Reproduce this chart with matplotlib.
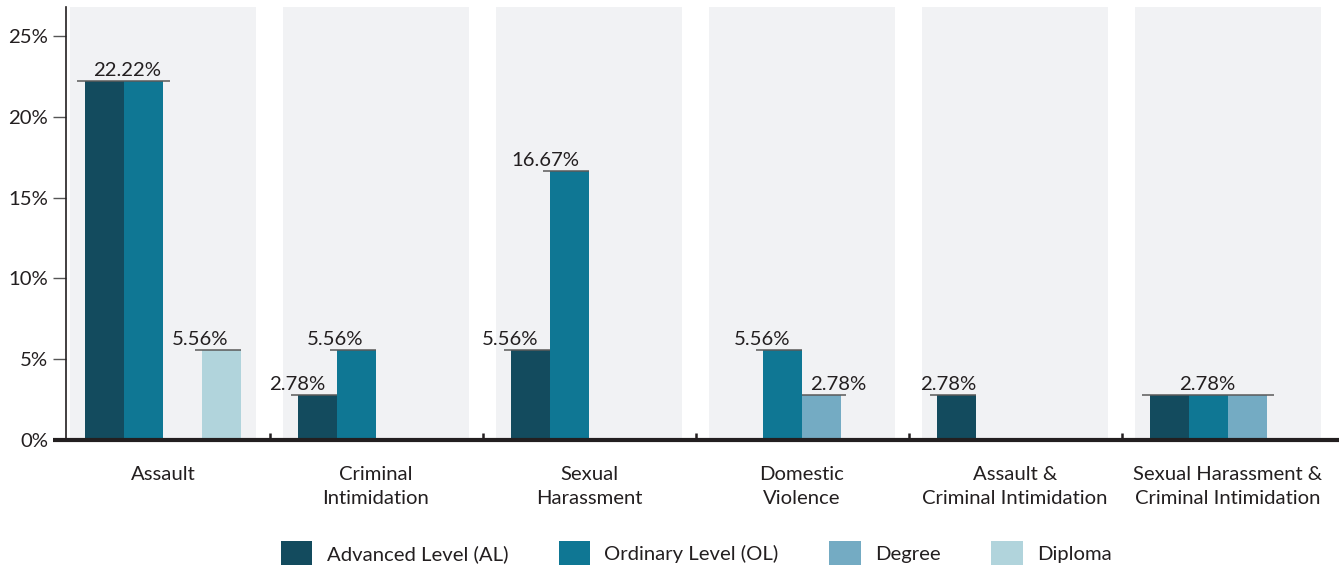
import matplotlib
matplotlib.use("Agg")
import matplotlib.pyplot as plt
import matplotlib.transforms as mtransforms
from matplotlib.patches import Patch
import numpy as np

plt.rcParams['font.family'] = ['Lato', 'DejaVu Sans']

categories = ["Assault", "Criminal\nIntimidation", "Sexual\nHarassment",
              "Domestic\nViolence", "Assault &\nCriminal Intimidation",
              "Sexual Harassment &\nCriminal Intimidation"]
series_names = ["Advanced Level (AL)", "Ordinary Level (OL)", "Degree", "Diploma"]
al = [22.22, 2.78, 5.56, 0, 2.78, 2.78]
ol = [22.22, 5.56, 16.67, 5.56, 0, 2.78]
degree = [0, 0, 0, 2.78, 0, 2.78]
diploma = [5.56, 0, 0, 0, 0, 0]
series = [al, ol, degree, diploma]
yticks = [0, 5, 10, 15, 20, 25]
ytick_labels = ["0%", "5%", "10%", "15%", "20%", "25%"]

colors = ["#134b5e", "#0f7794", "#74abc3", "#b1d4dc"]
panel_color = "#f1f2f4"
text_color = "#231f20"

# value labels: (category index, series indices sharing the label, x offset in px)
label_specs = [(0, (0, 1), 3), (0, (3,), -21),
               (1, (0,), -20), (1, (1,), -21),
               (2, (0,), -20), (2, (1,), -24),
               (3, (1,), -20), (3, (2,), 17),
               (4, (0,), -8),
               (5, (0, 1, 2), -1)]

FS = 14.6
W, H = 1339, 568
fig = plt.figure(figsize=(W / 100, H / 100), dpi=100)
ax_left, ax_bottom_px, ax_top_px = 66, 440, 7
ax = fig.add_axes([ax_left / W, (H - ax_bottom_px) / H, 1 - ax_left / W,
                   (ax_bottom_px - ax_top_px) / H])

px = 213.0  # pixels per category unit
x = np.arange(len(categories))
xmin = (ax_left - 163) / px
xmax = xmin + (W - ax_left) / px
ymax = 25 + (36 - ax_top_px) / ((ax_bottom_px - 36) / 25)
ax.set_xlim(xmin, xmax)
ax.set_ylim(0, ymax)

# background panels
ax.bar(x, ymax, width=0.873, color=panel_color, zorder=0)

bw = 39 / px
offsets = (np.arange(4) - 1.5) * bw
for i, vals in enumerate(series):
    ax.bar(x + offsets[i], vals, width=bw, color=colors[i], zorder=2,
           label=series_names[i])

d = 1 / px
for ci, sidx, off in label_specs:
    val = series[sidx[0]][ci]
    lefts = [x[ci] + offsets[s] - bw / 2 for s in sidx]
    rights = [x[ci] + offsets[s] + bw / 2 for s in sidx]
    l, r = min(lefts), max(rights)
    cx = (l + r) / 2 + off * d
    if len(sidx) > 1:
        ll, rr = l - 8 * d, r + 7 * d
    elif off > 0:
        ll, rr = l, r + 5 * d
    else:
        ll, rr = l - 7 * d, r
    ax.plot([ll, rr], [val, val], color="#5a5a5a", lw=1.1, zorder=3,
            solid_capstyle='butt')
    ax.annotate(f"{val:.2f}%", (cx, val), xytext=(0, 1.5),
                textcoords="offset points", ha="center", va="bottom",
                fontsize=FS, color=text_color, zorder=4)

# spines
for s in ["top", "right", "bottom"]:
    ax.spines[s].set_visible(False)
ax.spines["left"].set_color(text_color)
ax.spines["left"].set_linewidth(1.2)

# thick baseline extending left past the spine
trans = mtransforms.blended_transform_factory(ax.transAxes, ax.transData)
ax.plot([-13 / (W - ax_left), 1], [0, 0], color=text_color, lw=3, transform=trans,
        clip_on=False, zorder=5, solid_capstyle='butt')

ax.set_yticks(yticks)
ax.set_yticklabels(ytick_labels)
ax.tick_params(axis="y", length=9.4, width=1, color="#555555", pad=3.5,
               labelsize=FS, labelcolor=text_color)

ax.set_xticks(np.arange(len(categories) - 1) + 0.5)
ax.set_xticklabels([])
ax.tick_params(axis="x", which="major", direction="in", length=5, width=1.8,
               color=text_color)
ax.set_xticks(x, minor=True)
ax.set_xticklabels(categories, minor=True, fontsize=FS, color=text_color,
                   linespacing=1.55)
ax.tick_params(axis="x", which="minor", length=0, pad=18.5)

handles = [Patch(facecolor=c, edgecolor="none") for c in colors]
fig.legend(handles, series_names, loc="center", bbox_to_anchor=(0.52, 1 - 553 / H),
           ncol=4, frameon=False, fontsize=FS, handlelength=1.55,
           handleheight=1.5, handletextpad=0.7, columnspacing=2.5,
           labelcolor=text_color)

fig.savefig("out.png", dpi=100)
